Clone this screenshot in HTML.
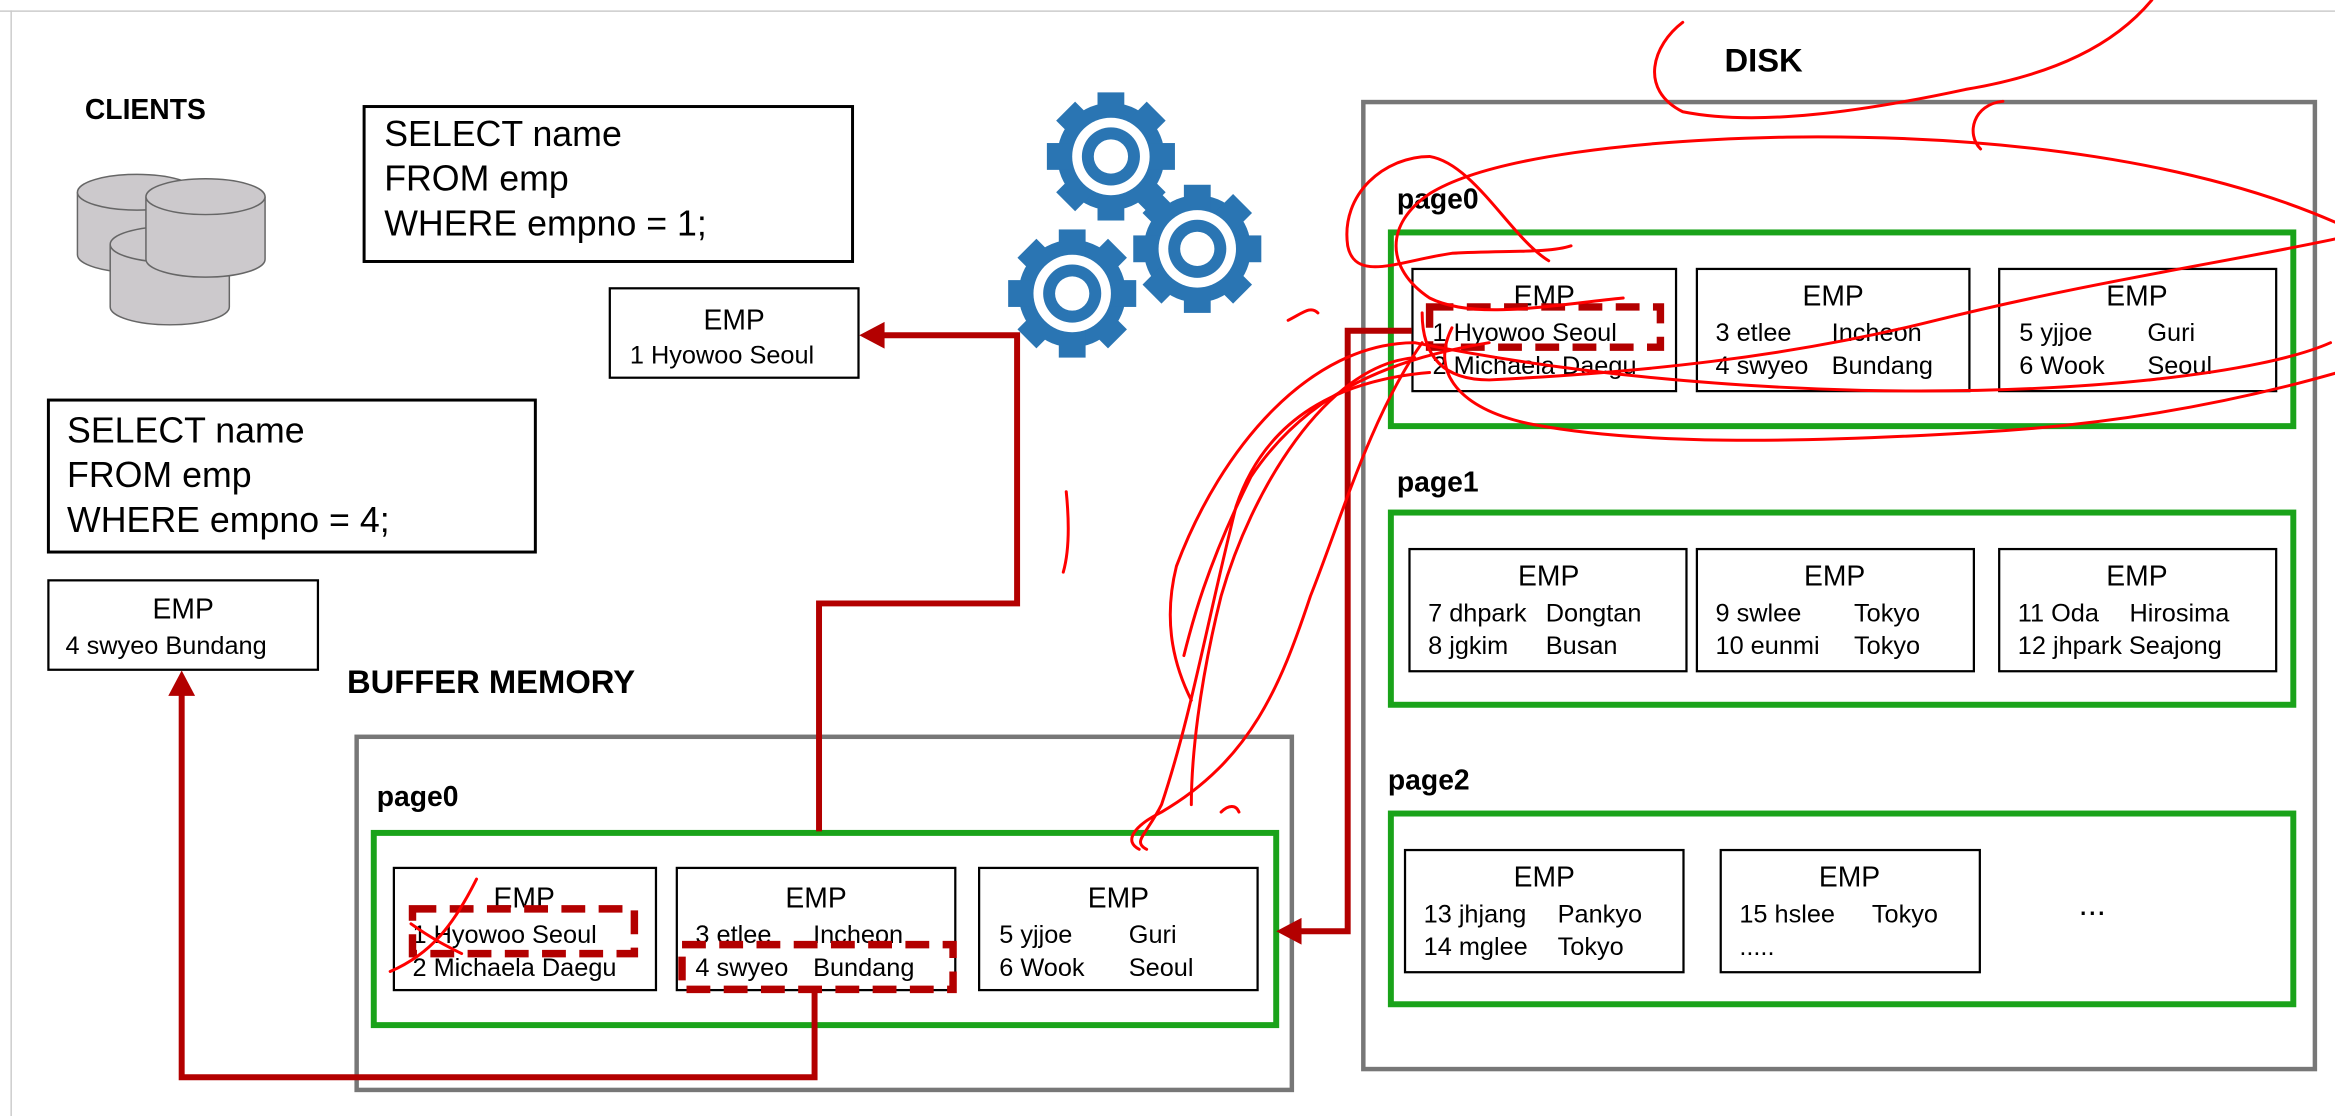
<!DOCTYPE html>
<html><head><meta charset="utf-8"><style>
html,body{margin:0;padding:0;background:#fff;}
svg{display:block;}
text{font-family:"Liberation Sans",sans-serif;fill:#000;}
.b{font-weight:bold;}
</style></head><body>
<svg width="2335" height="1116" viewBox="0 0 1568 749" preserveAspectRatio="none" xmlns="http://www.w3.org/2000/svg">
<defs>
<g id="gear">
  <g fill="#2a75b3">
    <circle r="36"/>
    <rect x="-9" y="-43" width="18" height="86"/>
    <rect x="-9" y="-43" width="18" height="86" transform="rotate(45)"/>
    <rect x="-9" y="-43" width="18" height="86" transform="rotate(90)"/>
    <rect x="-9" y="-43" width="18" height="86" transform="rotate(135)"/>
  </g>
  <circle r="26" fill="#fff"/>
  <circle r="19.5" fill="#2a75b3"/>
  <circle r="11.5" fill="#fff"/>
</g>
<g id="cyl">
  <path d="M0,12 v42 a40,12 0 0 0 80,0 v-42" fill="#ccc9cc" stroke="#666" stroke-width="1"/>
  <ellipse cx="40" cy="12" rx="40" ry="12" fill="#ccc9cc" stroke="#666" stroke-width="1"/>
</g>
</defs>
<rect x="0" y="0" width="1568" height="749" fill="#fff"/>
<line x1="0" y1="7.5" x2="1568" y2="7.5" stroke="#ccc" stroke-width="1"/>
<line x1="7.5" y1="7" x2="7.5" y2="749" stroke="#ccc" stroke-width="1"/>

<text x="57" y="80" class="b" font-size="19">CLIENTS</text>
<use href="#cyl" x="52" y="117"/>
<use href="#cyl" x="74" y="152"/>
<use href="#cyl" x="98" y="120"/>

<rect x="244.5" y="71.5" width="328" height="104" fill="none" stroke="#000" stroke-width="2"/>
<text x="258" y="98" font-size="24">SELECT name</text>
<text x="258" y="128" font-size="24">FROM emp</text>
<text x="258" y="158" font-size="24">WHERE empno = 1;</text>

<rect x="409.5" y="193.5" width="167" height="60" fill="none" stroke="#000" stroke-width="1.5"/>
<text x="493" y="221" font-size="19" text-anchor="middle">EMP</text>
<text x="423" y="244" font-size="17">1 Hyowoo  Seoul</text>

<rect x="32.5" y="268.5" width="327" height="102" fill="none" stroke="#000" stroke-width="2"/>
<text x="45" y="297" font-size="24">SELECT name</text>
<text x="45" y="327" font-size="24">FROM emp</text>
<text x="45" y="357" font-size="24">WHERE empno = 4;</text>

<rect x="32.5" y="389.5" width="181" height="60" fill="none" stroke="#000" stroke-width="1.5"/>
<text x="123" y="415" font-size="19" text-anchor="middle">EMP</text>
<text x="44" y="439" font-size="17">4 swyeo  Bundang</text>

<use href="#gear" x="746" y="105"/>
<use href="#gear" x="804" y="167"/>
<use href="#gear" x="720" y="197"/>

<text x="233" y="465" class="b" font-size="22">BUFFER MEMORY</text>
<rect x="239.5" y="494.5" width="628" height="237" fill="none" stroke="#777" stroke-width="3"/>
<text x="253" y="541" class="b" font-size="19">page0</text>
<rect x="251" y="559" width="606" height="129" fill="none" stroke="#1aa31a" stroke-width="4"/>
<rect x="264.5" y="582.5" width="176" height="82" fill="none" stroke="#000" stroke-width="1.5"/>
<rect x="454.5" y="582.5" width="187" height="82" fill="none" stroke="#000" stroke-width="1.5"/>
<rect x="657.5" y="582.5" width="187" height="82" fill="none" stroke="#000" stroke-width="1.5"/>
<text x="352" y="609" font-size="19" text-anchor="middle">EMP</text>
<text x="277" y="633" font-size="17">1 Hyowoo  Seoul</text>
<text x="277" y="655" font-size="17">2 Michaela Daegu</text>
<text x="548" y="609" font-size="19" text-anchor="middle">EMP</text>
<text x="467" y="633" font-size="17">3 etlee</text><text x="546" y="633" font-size="17">Incheon</text>
<text x="467" y="655" font-size="17">4 swyeo</text><text x="546" y="655" font-size="17">Bundang</text>
<text x="751" y="609" font-size="19" text-anchor="middle">EMP</text>
<text x="671" y="633" font-size="17">5 yjjoe</text><text x="758" y="633" font-size="17">Guri</text>
<text x="671" y="655" font-size="17">6 Wook</text><text x="758" y="655" font-size="17">Seoul</text>

<text x="1158" y="48" class="b" font-size="22">DISK</text>
<rect x="915.5" y="68.5" width="639" height="649" fill="none" stroke="#777" stroke-width="3"/>

<text x="938" y="140" class="b" font-size="19">page0</text>
<rect x="934" y="156" width="606" height="130" fill="none" stroke="#1aa31a" stroke-width="4"/>
<rect x="948.5" y="180.5" width="177" height="82" fill="none" stroke="#000" stroke-width="1.5"/>
<rect x="1139.5" y="180.5" width="183" height="82" fill="none" stroke="#000" stroke-width="1.5"/>
<rect x="1342.5" y="180.5" width="186" height="82" fill="none" stroke="#000" stroke-width="1.5"/>
<text x="1037" y="205" font-size="19" text-anchor="middle">EMP</text>
<text x="962" y="229" font-size="17">1 Hyowoo  Seoul</text>
<text x="962" y="251" font-size="17">2 Michaela Daegu</text>
<text x="1231" y="205" font-size="19" text-anchor="middle">EMP</text>
<text x="1152" y="229" font-size="17">3 etlee</text><text x="1230" y="229" font-size="17">Incheon</text>
<text x="1152" y="251" font-size="17">4 swyeo</text><text x="1230" y="251" font-size="17">Bundang</text>
<text x="1435" y="205" font-size="19" text-anchor="middle">EMP</text>
<text x="1356" y="229" font-size="17">5 yjjoe</text><text x="1442" y="229" font-size="17">Guri</text>
<text x="1356" y="251" font-size="17">6 Wook</text><text x="1442" y="251" font-size="17">Seoul</text>

<text x="938" y="330" class="b" font-size="19">page1</text>
<rect x="934" y="344" width="606" height="129" fill="none" stroke="#1aa31a" stroke-width="4"/>
<rect x="946.5" y="368.5" width="186" height="82" fill="none" stroke="#000" stroke-width="1.5"/>
<rect x="1139.5" y="368.5" width="186" height="82" fill="none" stroke="#000" stroke-width="1.5"/>
<rect x="1342.5" y="368.5" width="186" height="82" fill="none" stroke="#000" stroke-width="1.5"/>
<text x="1040" y="393" font-size="19" text-anchor="middle">EMP</text>
<text x="959" y="417" font-size="17">7 dhpark</text><text x="1038" y="417" font-size="17">Dongtan</text>
<text x="959" y="439" font-size="17">8 jgkim</text><text x="1038" y="439" font-size="17">Busan</text>
<text x="1232" y="393" font-size="19" text-anchor="middle">EMP</text>
<text x="1152" y="417" font-size="17">9  swlee</text><text x="1245" y="417" font-size="17">Tokyo</text>
<text x="1152" y="439" font-size="17">10 eunmi</text><text x="1245" y="439" font-size="17">Tokyo</text>
<text x="1435" y="393" font-size="19" text-anchor="middle">EMP</text>
<text x="1355" y="417" font-size="17">11 Oda</text><text x="1430" y="417" font-size="17">Hirosima</text>
<text x="1355" y="439" font-size="17">12 jhpark Seajong</text>

<text x="932" y="530" class="b" font-size="19">page2</text>
<rect x="934" y="546" width="606" height="128" fill="none" stroke="#1aa31a" stroke-width="4"/>
<rect x="943.5" y="570.5" width="187" height="82" fill="none" stroke="#000" stroke-width="1.5"/>
<rect x="1155.5" y="570.5" width="174" height="82" fill="none" stroke="#000" stroke-width="1.5"/>
<text x="1037" y="595" font-size="19" text-anchor="middle">EMP</text>
<text x="956" y="619" font-size="17">13 jhjang</text><text x="1046" y="619" font-size="17">Pankyo</text>
<text x="956" y="641" font-size="17">14 mglee</text><text x="1046" y="641" font-size="17">Tokyo</text>
<text x="1242" y="595" font-size="19" text-anchor="middle">EMP</text>
<text x="1168" y="619" font-size="17">15 hslee</text><text x="1257" y="619" font-size="17">Tokyo</text>
<text x="1168" y="641" font-size="17">.....</text>
<text x="1405" y="614" font-size="22" text-anchor="middle">...</text>

<g fill="none" stroke="#b30000" stroke-width="4">
  <polyline points="550,558 550,405 683,405 683,225 592,225"/>
  <polyline points="547,665 547,723 122,723 122,465"/>
  <polyline points="948,222 905,222 905,625 872,625"/>
</g>
<g fill="#b30000">
  <polygon points="577,225 594,216 594,234"/>
  <polygon points="122,450 113,467 131,467"/>
  <polygon points="857,625 874,616 874,634"/>
</g>
<g fill="none" stroke="#b30000" stroke-width="5" stroke-dasharray="16,9">
  <rect x="277" y="610" width="149" height="30"/>
  <rect x="458" y="634" width="182" height="30"/>
  <rect x="960" y="206" width="155" height="27"/>
</g>

<g fill="none" stroke="#f00" stroke-width="2" stroke-linecap="round">
  <path d="M1445,0 C1420,30 1380,50 1320,60 C1250,75 1180,85 1130,75 C1100,60 1110,30 1130,15"/>
  <path d="M1330,100 C1320,90 1325,70 1345,68"/>
  <path d="M1570,150 C1480,110 1350,90 1200,92 C1100,94 1000,105 960,130 C930,150 930,180 960,200 C990,215 1040,205 1090,200"/>
  <path d="M1040,175 C1015,160 990,110 960,105 C930,105 900,130 905,165 C910,190 940,175 975,170 C1010,168 1040,170 1055,165"/>
  <path d="M1570,160 C1500,175 1400,190 1300,215 C1200,240 1100,250 1000,255 C970,255 955,240 955,210"/>
  <path d="M1570,250 C1500,270 1420,285 1330,290 C1200,298 1100,298 1030,285 C980,275 960,250 975,220"/>
  <path d="M1565,230 C1520,250 1400,265 1250,262 C1100,258 1000,240 950,230 C880,230 820,300 790,380 C780,420 790,450 800,470"/>
  <path d="M1000,230 C940,240 880,260 840,320 C810,380 800,420 795,440"/>
  <path d="M960,250 C900,255 850,280 830,340 C810,420 800,480 780,540 C770,560 760,565 770,570"/>
  <path d="M950,240 C890,245 840,330 820,400 C805,460 800,510 800,540"/>
  <path d="M955,230 C920,280 900,350 880,400 C860,460 840,510 780,545 C760,555 755,565 765,570"/>
  <path d="M865,215 C875,210 880,205 885,210"/>
  <path d="M716,330 C718,350 718,370 714,384"/>
  <path d="M820,545 C825,540 830,540 832,545"/>
  <path d="M320,590 C305,620 290,640 262,652"/>
  <path d="M276,620 C290,630 300,635 310,640"/>
</g>
</svg>
</body></html>
